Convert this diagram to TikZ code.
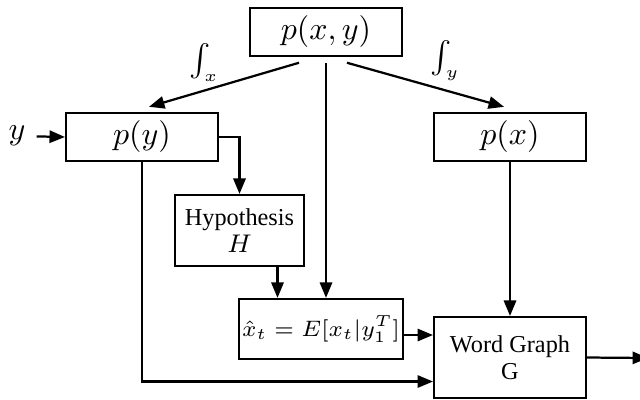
\documentclass[tikz,border=0pt]{standalone}
\usepackage{fontspec}
\setmainfont{Liberation Serif}
\usetikzlibrary{arrows.meta,calc}
\tikzset{blk/.style={draw,line width=.7pt,align=center,inner sep=1pt},small/.style={font=\fontsize{7.6}{8.4}\selectfont},arr/.style={-{Triangle[length=1.7mm,width=1.35mm]},line width=.7pt}}

\begin{document}
\begin{tikzpicture}[x=.011cm,y=-.011cm]
  \useasboundingbox (0,0) rectangle (640,399);
  \node[blk,minimum width=1.67cm,minimum height=.52cm](pxy) at (326,32){$p(x,y)$};
  \node[blk,minimum width=1.67cm,minimum height=.53cm](py) at (142,137){$p(y)$};
  \node[blk,minimum width=1.67cm,minimum height=.53cm](px) at (510,137){$p(x)$};
  \node[blk,small,minimum width=1.42cm,minimum height=.78cm](hyp) at (239.5,230.5){Hypothesis\\$H$};
  \node[blk,font=\fontsize{7}{8}\selectfont,minimum width=1.78cm,minimum height=.66cm](xhat) at (321,329){$\hat{x}_t=E[x_t|y_1^T]$};
  \node[blk,small,minimum width=1.67cm,minimum height=.89cm](wg) at (510,357.5){Word Graph\\G};
  \node(ylab) at (17,136){$y$};
  \coordinate(h) at ($(hyp.south)+(38,0)$);
  \coordinate(out) at (648,358);
  \draw[arr]($(pxy.south)+(-27,6)$)--($(py.north)+(7,-5)$) node[midway,small,above left=0pt,xshift=2pt,yshift=-2.5pt]{$\int_x$};
  \draw[arr]($(pxy.south)+(21,6)$)--($(px.north)+(-6,-5)$) node[midway,small,above right=0pt,xshift=-2pt,yshift=-2.5pt]{$\int_y$};
  \draw[arr]($(pxy.south)+(0,6)$)--(pxy.south |- xhat.north);
  \draw[arr](ylab)--(py.west);
  \draw[arr](py.east)-|(hyp.north);
  \draw[arr](h)--(h |- xhat.north);
  \draw[arr](px)--(wg);
  \draw[arr]($(xhat.east)+(0,6)$)--($(xhat.east -| wg.west)+(0,6)$);
  \draw[arr](py.south)|-($(wg.west)+(0,24)$);
  \draw[arr](wg.east)--(out);
\end{tikzpicture}
\end{document}
